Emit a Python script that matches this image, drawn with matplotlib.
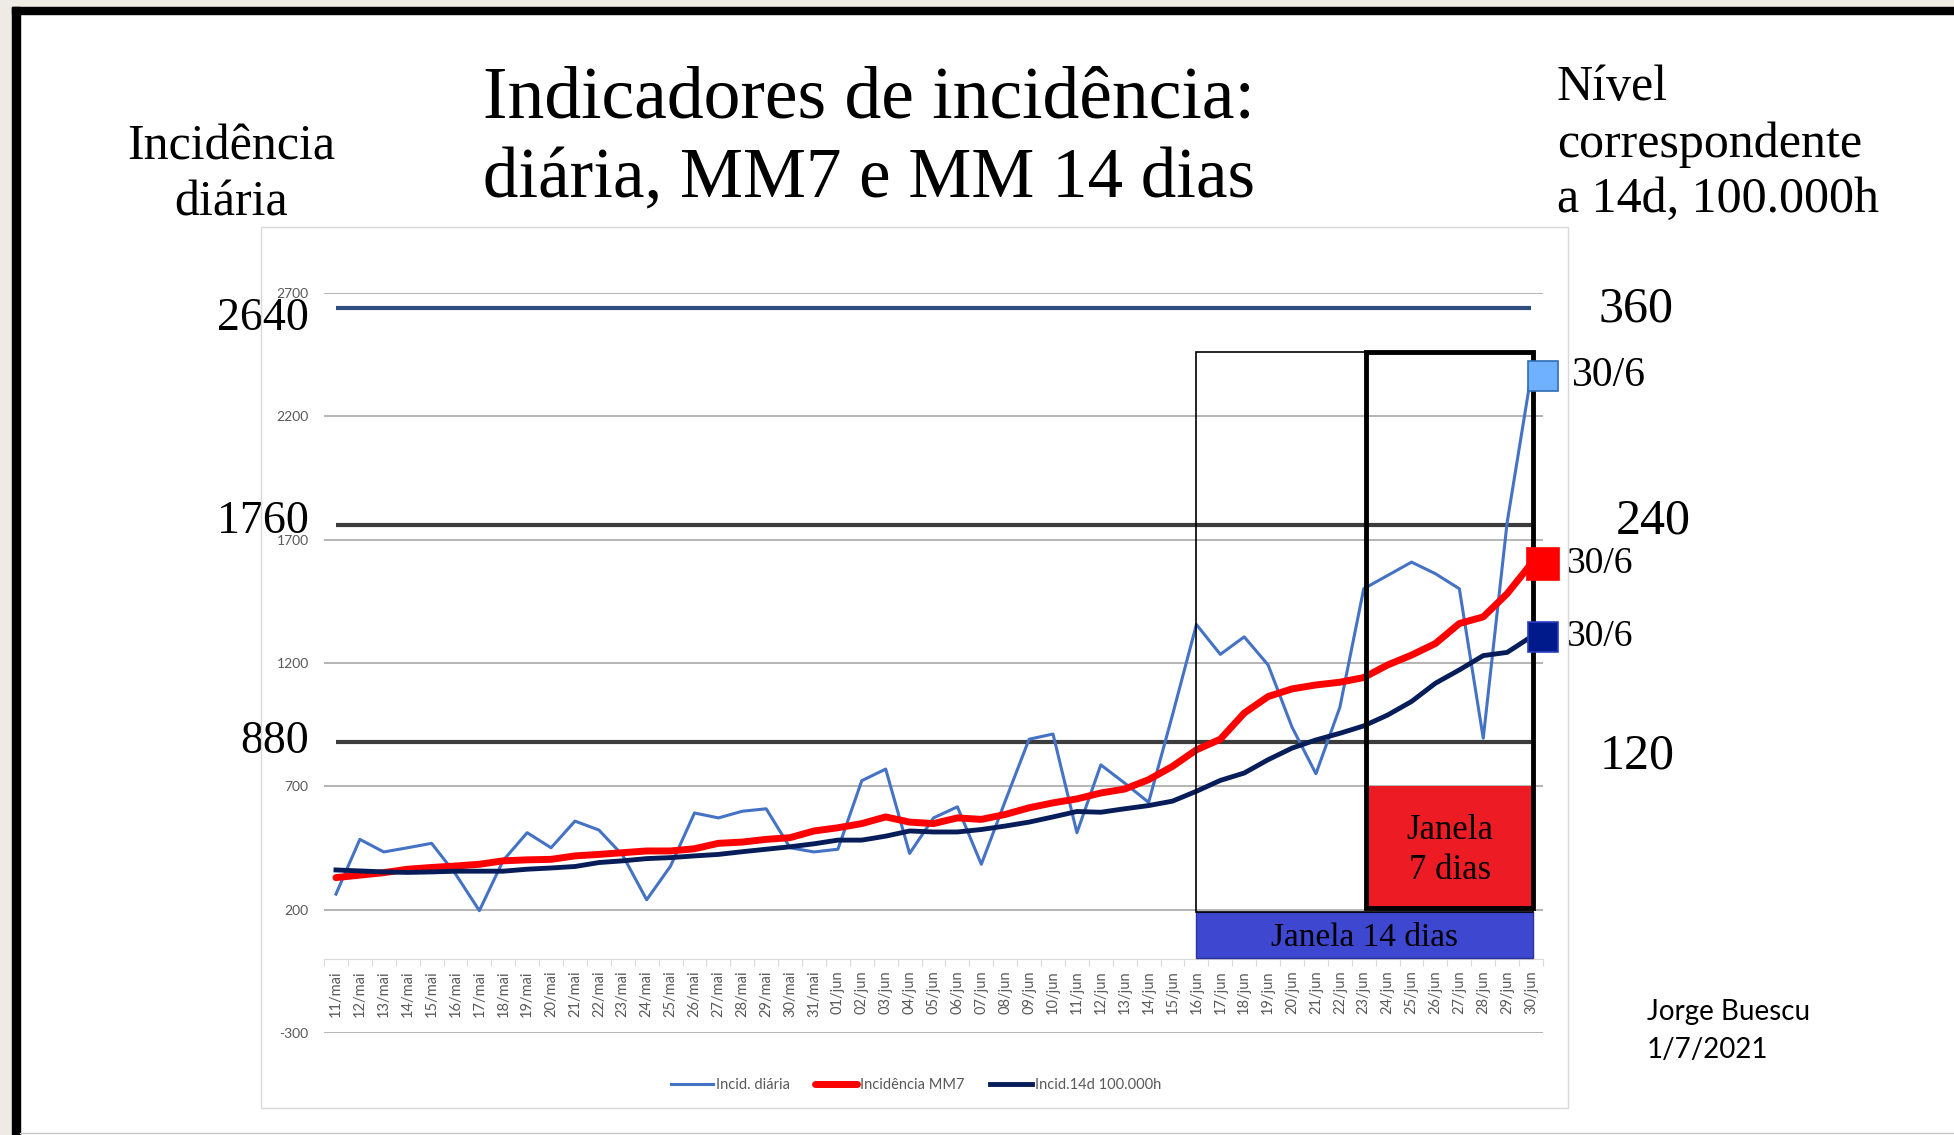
import numpy as np
import matplotlib.pyplot as plt
from matplotlib.patches import Rectangle
from matplotlib.lines import Line2D
import matplotlib.transforms as mtransforms

# data
dates = [f"{d}/mai" for d in range(11, 32)] + [f"{d:02d}/jun" for d in range(1, 31)]

daily = [263, 485, 434, 451, 469, 345, 196, 400, 512, 451, 559, 523, 420, 240,
         377, 592, 572, 599, 609, 451, 434,
         445, 723, 770, 428, 572, 617, 384, 640, 891, 912, 512, 787, 713, 635,
         990, 1356, 1235, 1306, 1192, 940, 751, 1020, 1501, 1555, 1609, 1562,
         1501, 895, 1770, 2365]

mm7 = [330, 340, 350, 364, 371, 377, 384, 398, 402, 404, 418, 424, 431, 438,
       438, 447, 469, 474, 485, 492, 519,
       532, 549, 576, 555, 549, 572, 566, 586, 613, 633, 649, 673, 689, 727,
       781, 848, 891, 997, 1064, 1095, 1111, 1122, 1141, 1192, 1232, 1279,
       1360, 1387, 1481, 1602]

inc14 = [361, 357, 353, 351, 353, 356, 356, 356, 364, 369, 375, 391, 398, 407,
         411, 418, 424, 435, 445, 455, 467,
         482, 482, 498, 519, 515, 515, 525, 539, 555, 576, 598, 595, 609, 622,
         640, 680, 724, 754, 808, 855, 888, 915, 945, 989, 1044, 1118, 1172,
         1230, 1243, 1306]

levels = [2640, 1760, 880]
levels_14d = ["360", "240", "120"]
yticks = [-300, 200, 700, 1200, 1700, 2200, 2700]
series_names = ["Incid. diária", "Incidência MM7", "Incid.14d 100.000h"]

W, H = 1954, 1135
SERIF = "Liberation Serif"
SANS = "Lato"
GREY_TXT = "#595959"


def fx(px):
    return px / W


def fy(py):
    return 1 - py / H


fig = plt.figure(figsize=(W / 100, H / 100), dpi=100)
fig.patch.set_facecolor("white")

# slide frame (beige edge + black border)
fig.patches.extend([
    Rectangle((0, fy(7)), 1, 7 / H, transform=fig.transFigure, color="#eeebe4", zorder=0),
    Rectangle((0, 0), fx(12), 1, transform=fig.transFigure, color="#eeebe4", zorder=0),
    Rectangle((fx(12), fy(14)), 1, 7 / H, transform=fig.transFigure, color="black", zorder=1),
    Rectangle((fx(12), 0), 8 / W, fy(7), transform=fig.transFigure, color="black", zorder=1),
    Rectangle((fx(261), fy(1108)), fx(1568) - fx(261), fy(227) - fy(1108),
              transform=fig.transFigure, fill=False, edgecolor="#d9d9d9", lw=1, zorder=1),
])
fig.lines.append(Line2D([fx(20), 1], [fy(1133), fy(1133)], transform=fig.transFigure,
                        color="#c8c8c8", lw=1))

ax = fig.add_axes([fx(324), fy(1033), fx(1543) - fx(324), fy(293) - fy(1033)])
ax.set_facecolor("none")
x = np.arange(len(dates))
n_last = len(dates) - 1

ax.set_xlim(-0.5, n_last + 0.5)
ax.set_ylim(-300, 2700)

for yv in yticks:
    ax.axhline(yv, color="#a0a0a0", lw=1.1, zorder=1)

for s in ["top", "right", "left"]:
    ax.spines[s].set_visible(False)
ax.spines["bottom"].set_position(("data", 0))
ax.spines["bottom"].set_color("#d9d9d9")

ax.set_yticks(yticks)
ax.set_yticklabels([str(v) for v in yticks], fontsize=10, color=GREY_TXT, family=SANS)
ax.tick_params(axis="y", length=0, pad=11)

ax.set_xticks(np.arange(-0.5, n_last + 1, 1))
ax.set_xticklabels([])
ax.tick_params(axis="x", which="major", length=5, color="#d9d9d9", direction="out")
ax.set_xticks(x, minor=True)
ax.set_xticklabels(dates, minor=True, rotation=90, fontsize=10.5, color=GREY_TXT, family=SANS)
ax.tick_params(axis="x", which="minor", length=0, pad=8)

# reference levels
ax.hlines(levels, 0, n_last, colors=["#2f4d7e", "#3c3c3c", "#3c3c3c"], lw=3, zorder=3)

# series
l1, = ax.plot(x, daily, color="#4472c4", lw=2.2, zorder=4)
l2, = ax.plot(x, mm7, color="#ff0000", lw=5, zorder=5, solid_capstyle="round")
l3, = ax.plot(x, inc14, color="#061d5a", lw=3.5, zorder=6)

# windows
i16 = dates.index("16/jun")
i23 = dates.index("23/jun")
box_top = 2460
right = n_last + 0.1
ax.add_patch(Rectangle((i16, 5), right - i16, 186, facecolor="#3d47cf",
                       edgecolor="#2a3399", lw=1, zorder=7))
ax.text((i16 + right) / 2, 85, "Janela 14 dias", ha="center", va="center",
        fontsize=24, family=SERIF, zorder=10)
ax.add_patch(Rectangle((i23 + 0.1, 207), right - i23 - 0.1, 493, facecolor="#ed1c24",
                       edgecolor="none", zorder=7))
ax.text((i23 + 0.1 + right) / 2, 440, "Janela\n7 dias", ha="center", va="center",
        fontsize=25, family=SERIF, linespacing=1.25, zorder=10)
ax.add_patch(Rectangle((i16, 191), right - i16, box_top - 191, fill=False,
                       edgecolor="black", lw=1.2, zorder=8))
ax.add_patch(Rectangle((i23 + 0.1, 207), right - i23 - 0.1, box_top - 207, fill=False,
                       edgecolor="black", lw=3.5, zorder=9))

# 30/6 markers
marks = [(daily[-1], "#6fb0ff", "#2f6db5", 22, 30, 21),
         (mm7[-1], "#ff0000", "#ff0000", 23, 27, 17),
         (inc14[-1], "#001a8c", "#2a3fc0", 21, 27, 17)]
for val, fc, ec, ms, fs, off in marks:
    ax.plot(n_last + 0.5, val, marker="s", ms=ms, mfc=fc, mec=ec, mew=1.2,
            clip_on=False, zorder=11)
    ax.annotate("30/6", (n_last + 0.5, val), xytext=(off, 0), textcoords="offset points",
                ha="left", va="center", fontsize=fs, family=SERIF, annotation_clip=False)

# level labels (left, daily scale) and right (14d per 100k)
trans = mtransforms.blended_transform_factory(fig.transFigure, ax.transData)
for lv, dy in zip(levels, [-8, 2, 0]):
    ax.annotate(str(lv), (fx(309), lv), xycoords=trans, xytext=(0, dy),
                textcoords="offset points", ha="right", va="center",
                fontsize=33, family=SERIF, annotation_clip=False)
for lab, (px, py) in zip(levels_14d, [(1636, 309), (1653, 521), (1637, 756)]):
    fig.text(fx(px), fy(py), lab, ha="center", va="center", fontsize=36, family=SERIF)

# titles
fig.text(fx(483), fy(117), "Indicadores de incidência:", fontsize=53, family=SERIF, va="baseline")
fig.text(fx(483), fy(197), "diária, MM7 e MM 14 dias", fontsize=51, family=SERIF, va="baseline")
fig.text(fx(231), fy(160), "Incidência", fontsize=36, family=SERIF, ha="center", va="baseline")
fig.text(fx(231), fy(216), "diária", fontsize=36, family=SERIF, ha="center", va="baseline")
for txt, by in zip(["Nível", "correspondente", "a 14d, 100.000h"], [100, 157, 212]):
    fig.text(fx(1557), fy(by), txt, fontsize=36, family=SERIF, va="baseline")

fig.text(fx(1647), fy(1012), "Jorge Buescu", fontsize=20, family=SANS, va="center")
fig.text(fx(1647), fy(1050), "1/7/2021", fontsize=20, family=SANS, va="center")

# legend
fig.legend([l1, l2, l3], series_names, loc="center", bbox_to_anchor=(fx(916), fy(1085)),
           ncol=3, frameon=False, handlelength=2.9, handletextpad=0.2, columnspacing=1.7,
           prop={"family": SANS, "size": 10.5}, labelcolor=GREY_TXT)

fig.savefig("out.png", dpi=100)
